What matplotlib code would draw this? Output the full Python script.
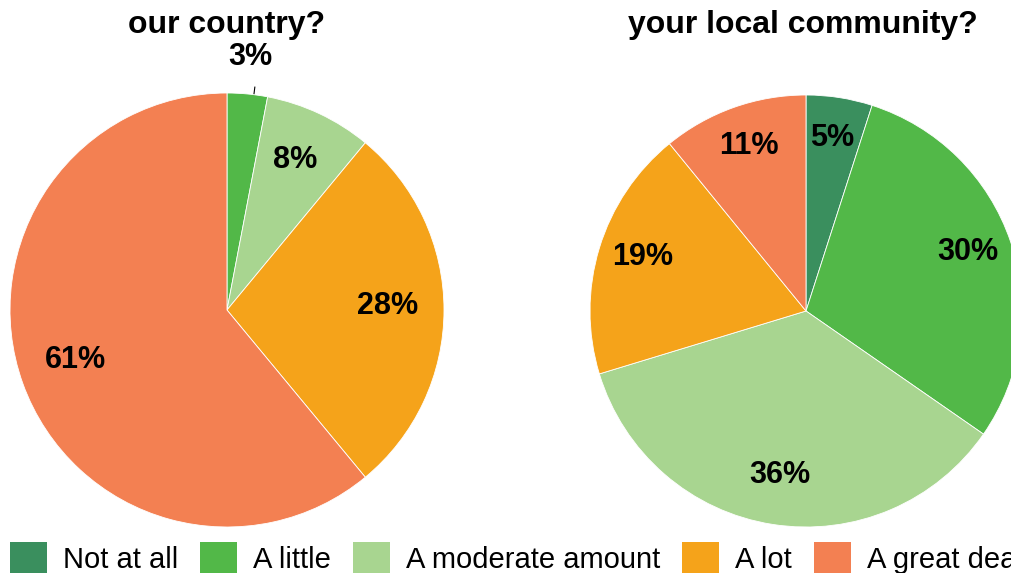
import matplotlib
matplotlib.use("Agg")
import matplotlib.pyplot as plt
import numpy as np

categories = ["Not at all", "A little", "A moderate amount", "A lot", "A great deal"]
country_values = [0, 3, 8, 28, 61]
community_values = [5, 30, 36, 19, 11]
titles = ["our country?", "your local community?"]
colors = ["#3A8F5E", "#52B848", "#A8D590", "#F5A31A", "#F38052"]

plt.rcParams['font.family'] = ['Liberation Sans', 'DejaVu Sans']

W, H = 1011, 573
fig = plt.figure(figsize=(W / 100, H / 100), dpi=100)
fig.patch.set_facecolor("white")


def make_ax(cx, cy, r):
    return fig.add_axes([(cx - r) / W, 1 - (cy + r) / H, 2 * r / W, 2 * r / H])


def draw_pie(ax, values, pctdist):
    total = sum(values)
    wedges, _ = ax.pie(values, colors=colors, startangle=90, counterclock=False,
                       radius=1, wedgeprops=dict(edgecolor="white", linewidth=0.6))
    for w, v in zip(wedges, values):
        if v <= 0:
            continue
        mid = np.deg2rad((w.theta1 + w.theta2) / 2)
        if v / total < 0.04:
            d = 1.15
            ax.plot([1.005 * np.cos(mid - 0.03), 1.035 * np.cos(mid - 0.03)],
                    [1.005 * np.sin(mid - 0.03), 1.035 * np.sin(mid - 0.03)],
                    color="black", lw=0.8, clip_on=False)
        else:
            d = pctdist
        ax.text(d * np.cos(mid), d * np.sin(mid) + 0.02, f"{v}%", ha="center", va="center",
                fontsize=22, fontweight="bold", color="black", clip_on=False)
    ax.set_xlim(-1, 1)
    ax.set_ylim(-1, 1)
    ax.set_aspect("equal")
    ax.axis("off")
    return wedges


ax1 = make_ax(227, 310, 217)
wedges = draw_pie(ax1, country_values, 0.74)
ax2 = make_ax(806, 311, 216)
draw_pie(ax2, community_values, 0.79)

fig.text(227 / W, 1 - 33 / H, titles[0], ha="center", va="baseline",
         fontsize=23, fontweight="bold")
fig.text(803 / W, 1 - 33 / H, titles[1], ha="center", va="baseline",
         fontsize=23, fontweight="bold")

leg = fig.legend(wedges, categories, loc="center left",
                 bbox_to_anchor=(10 / W, 1 - 558 / H), ncol=5, frameon=False,
                 fontsize=21, handlelength=1.27, handleheight=1.27,
                 handletextpad=0.55, columnspacing=0.75, borderpad=0,
                 borderaxespad=0)
for h in leg.legend_handles:
    h.set_edgecolor("none")

fig.savefig("out.png", dpi=100, facecolor="white")
